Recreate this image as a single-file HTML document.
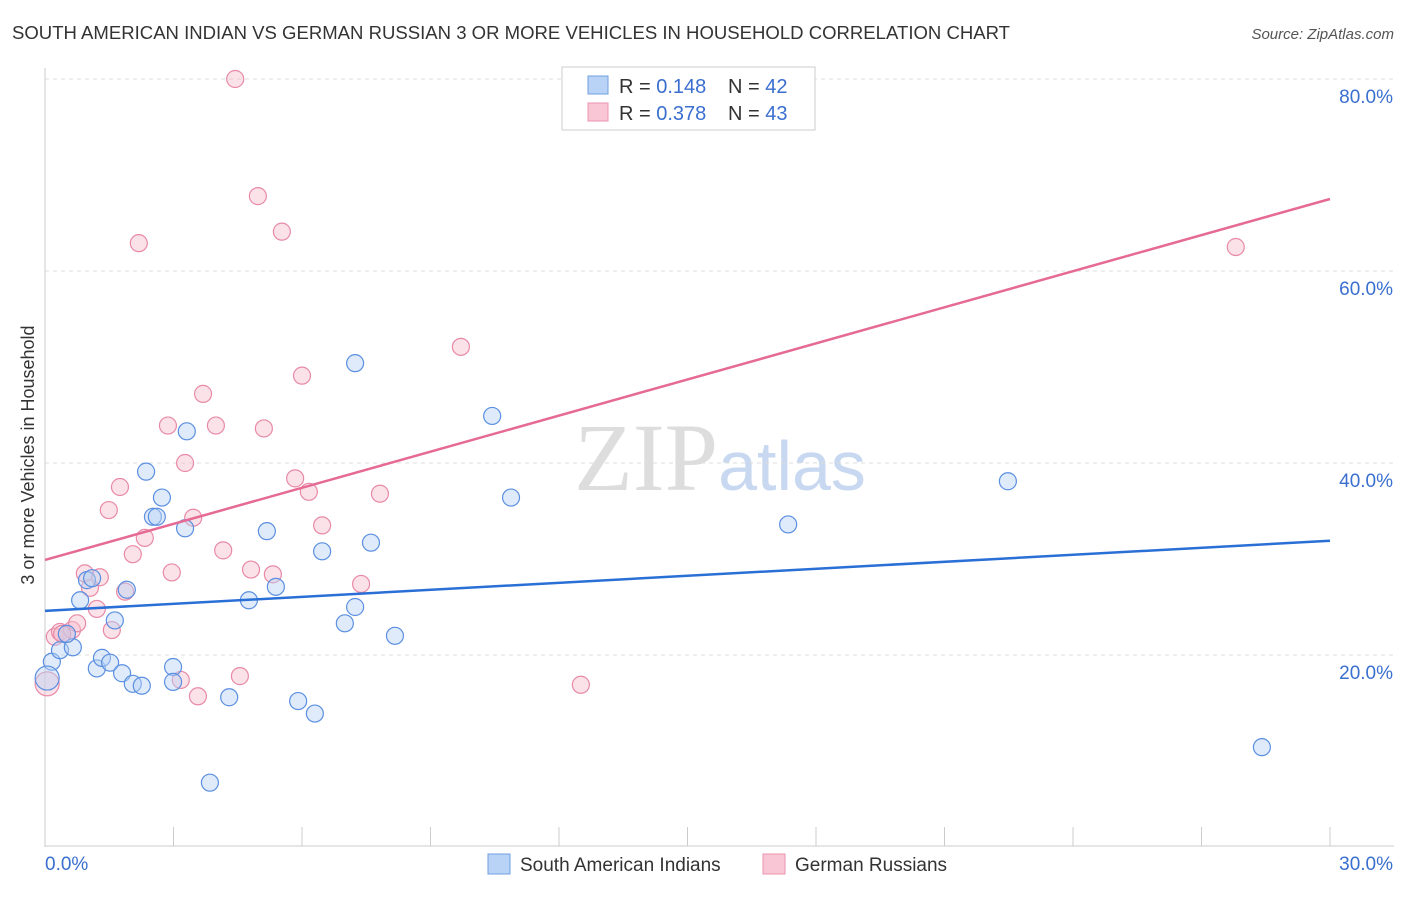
<!DOCTYPE html>
<html><head><meta charset="utf-8"><style>
body{margin:0;background:#fff;font-family:"Liberation Sans",sans-serif;}
svg text{font-family:"Liberation Sans",sans-serif;}
</style></head><body>
<svg id="chart" width="1406" height="892" xmlns="http://www.w3.org/2000/svg">
<text x="12" y="39" font-size="18" fill="#333" textLength="998" lengthAdjust="spacingAndGlyphs">SOUTH AMERICAN INDIAN VS GERMAN RUSSIAN 3 OR MORE VEHICLES IN HOUSEHOLD CORRELATION CHART</text>
<text x="1394" y="39" font-size="15" fill="#555" text-anchor="end" font-style="italic">Source: ZipAtlas.com</text>
<text x="720" y="490" font-size="96" text-anchor="middle"><tspan fill="#ddd" font-family="Liberation Serif">ZIP</tspan><tspan fill="#c8d8f0" font-size="70">atlas</tspan></text>
<g id="grid"></g><g id="axes"></g><g id="pts"></g><g id="lines"></g>
<text transform="translate(34,455) rotate(-90)" font-size="18" fill="#333" text-anchor="middle">3 or more Vehicles in Household</text>
<g>
<rect x="562" y="67" width="253" height="63" fill="#fff" stroke="#ccc"/>
<rect x="588" y="76" width="20" height="18" fill="#b8d3f5" stroke="#6f9fe0"/>
<rect x="588" y="103" width="20" height="18" fill="#f9c6d5" stroke="#eb94ae"/>
<text x="619" y="93" font-size="20" fill="#333">R = <tspan fill="#3a6fcf">0.148</tspan></text>
<text x="728" y="93" font-size="20" fill="#333">N = <tspan fill="#3a6fcf">42</tspan></text>
<text x="619" y="120" font-size="20" fill="#333">R = <tspan fill="#3a6fcf">0.378</tspan></text>
<text x="728" y="120" font-size="20" fill="#333">N = <tspan fill="#3a6fcf">43</tspan></text>
</g>
<g>
<rect x="488" y="854" width="22" height="20" fill="#b8d3f5" stroke="#6f9fe0"/>
<text x="520" y="871" font-size="19" fill="#333">South American Indians</text>
<rect x="763" y="854" width="22" height="20" fill="#f9c6d5" stroke="#eb94ae"/>
<text x="795" y="871" font-size="19" fill="#333">German Russians</text>
</g>
</svg>
<script>
const yTicks=[20,40,60,80];
const xTickLabels=["0.0%","30.0%"];
const blueX=[0.16,0.05,0.35,0.65,0.82,0.98,1.10,1.21,1.33,1.52,1.63,1.80,1.91,2.05,2.26,2.36,2.52,2.61,2.73,2.99,2.99,3.27,3.31,3.85,4.30,4.76,5.18,5.39,5.91,6.30,6.47,7.00,7.24,7.24,7.61,8.17,10.44,10.88,17.35,22.48,28.41,0.51];
const blueY=[19.3,17.6,20.5,20.8,25.7,27.8,28.0,18.6,19.7,19.2,23.6,18.1,26.8,17.0,16.8,39.1,34.4,34.4,36.4,18.75,17.2,33.2,43.3,6.7,15.6,25.7,32.9,27.1,15.2,13.9,30.8,23.3,25.0,50.4,31.7,22.0,44.9,36.4,33.6,38.1,10.4,22.2];
const pinkX=[0.05,0.23,0.35,0.51,0.63,0.75,0.93,1.05,1.21,1.28,1.49,1.56,1.75,1.87,2.05,2.19,2.33,2.87,2.96,3.17,3.27,3.46,3.57,3.69,3.99,4.16,4.44,4.55,4.81,4.97,5.11,5.32,5.53,5.84,6.00,6.16,6.47,7.38,7.82,9.71,12.51,27.80,0.40];
const pinkY=[17.0,21.9,22.4,22.2,22.6,23.3,28.5,27.0,24.8,28.1,35.1,22.6,37.5,26.6,30.5,62.9,32.2,43.9,28.6,17.4,40.0,34.3,15.7,47.2,43.9,30.9,80.0,17.8,28.9,67.8,43.6,28.4,64.1,38.4,49.1,37.0,33.5,27.4,36.8,52.1,16.9,62.5,22.2];
const blueLine=[24.6,31.9];
const pinkLine=[29.9,67.5];
const NS="http://www.w3.org/2000/svg";
const X=v=>45+v/30*1285, Y=v=>847-v*9.6;
function mk(p,t,a){const e=document.createElementNS(NS,t);for(const k in a)e.setAttribute(k,a[k]);document.getElementById(p).appendChild(e);return e;}
yTicks.forEach(t=>{
 let l=mk('grid','line',{x1:45,x2:1394,y1:Y(t),y2:Y(t),stroke:'#ddd','stroke-dasharray':'4,4'});
 
 
 let tx=mk('grid','text',{x:1393,y:Y(t)+24,'font-size':19,fill:'#3a6fcf','text-anchor':'end'});
 tx.textContent=t.toFixed(1)+'%';
 
 
});
let ax=mk('axes','line',{x1:45,x2:45,y1:68,y2:847,stroke:'#ccc'});


let bx=mk('axes','line',{x1:45,x2:1394,y1:846,y2:846,stroke:'#ccc'});


for(let i=0;i<=10;i++){let t=mk('axes','line',{x1:X(i*3),x2:X(i*3),y1:827,y2:846,stroke:'#ccc'});
 
 }
[[0,'start',45],[30,'end',1393]].forEach((d,i)=>{let t=mk('axes','text',{x:d[2],y:870,'font-size':19,fill:'#3a6fcf','text-anchor':d[1]});t.textContent=xTickLabels[i];
 
 });
function pts(xs,ys,f,s,n){xs.forEach((x,i)=>{let c=mk('pts','circle',{cx:X(x),cy:Y(ys[i]),r:(x<0.1?12:8.5),fill:f,'fill-opacity':0.45,stroke:s,'stroke-width':1.2});
 
 });}
pts(pinkX,pinkY,'#f7bccd','#e88aa7','german-russian-point');
pts(blueX,blueY,'#b8d3f5','#5b8fe0','south-american-indian-point');
let bl=mk('lines','line',{x1:X(0),x2:X(30),y1:Y(blueLine[0]),y2:Y(blueLine[1]),stroke:'#2a6fd6','stroke-width':2.5});


let pl=mk('lines','line',{x1:X(0),x2:X(30),y1:Y(pinkLine[0]),y2:Y(pinkLine[1]),stroke:'#e56a94','stroke-width':2.5});


</script>
</body></html>
